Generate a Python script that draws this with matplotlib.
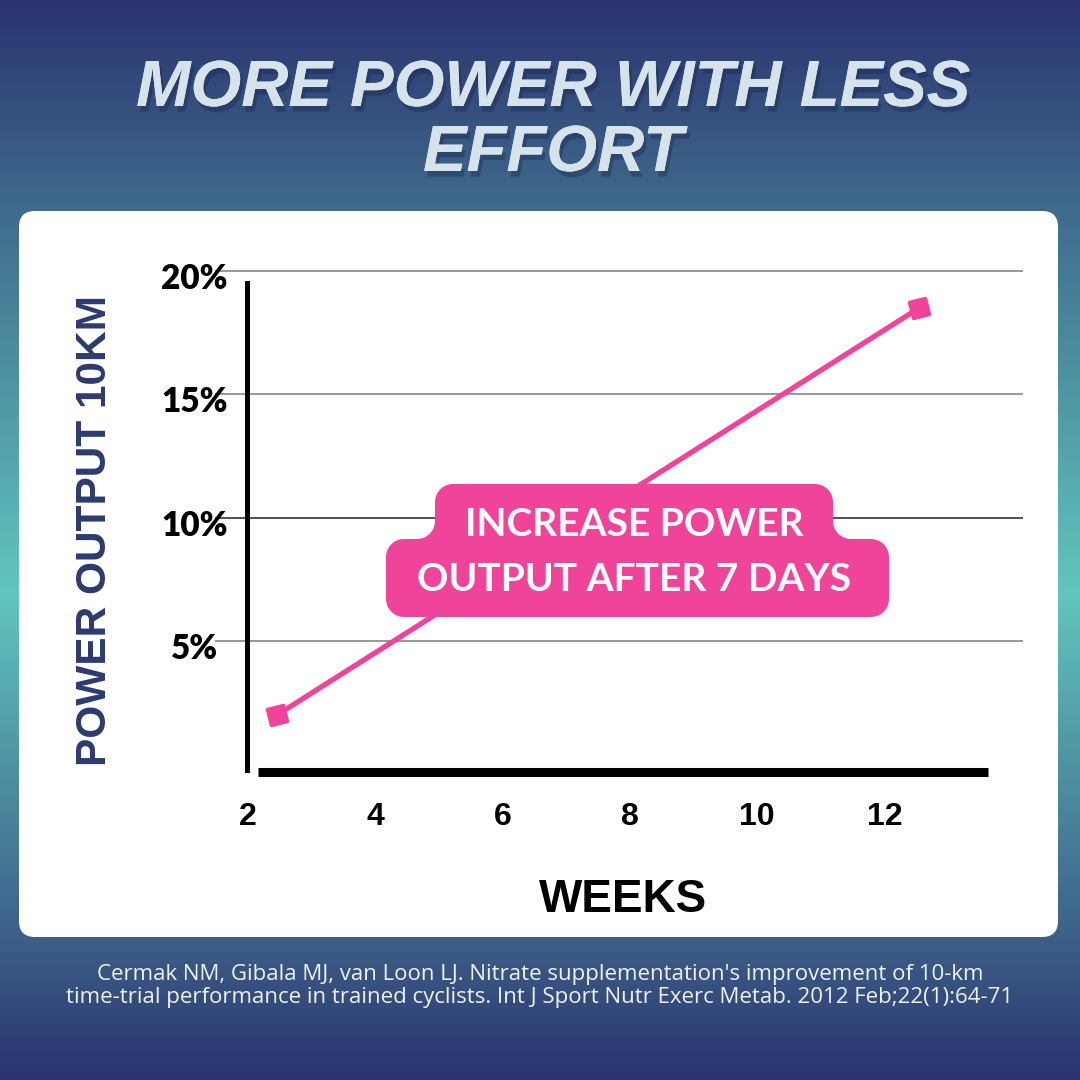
import numpy as np
import matplotlib
matplotlib.use("Agg")
import matplotlib.pyplot as plt
from matplotlib.colors import LinearSegmentedColormap
from matplotlib.patches import FancyBboxPatch, PathPatch
from matplotlib.path import Path
from matplotlib.markers import MarkerStyle
from matplotlib.transforms import Affine2D, ScaledTranslation
import matplotlib.patheffects as pe

# data
weeks = [2.45, 12.55]
power_gain = [2.0, 18.5]

week_ticks = [2, 4, 6, 8, 10, 12]
week_labels = ["2", "4", "6", "8", "10", "12"]
pct_ticks = [5, 10, 15, 20]
pct_labels = ["5%", "10%", "15%", "20%"]

title_lines = ["MORE POWER WITH LESS", "EFFORT"]
callout_lines = ["INCREASE POWER", "OUTPUT AFTER 7 DAYS"]
citation_lines = [
    "Cermak NM, Gibala MJ, van Loon LJ. Nitrate supplementation's improvement of 10-km",
    "time-trial performance in trained cyclists. Int J Sport Nutr Exerc Metab. 2012 Feb;22(1):64-71",
]

PINK = "#f0449a"
NAVY = "#2c3a70"
ARIAL = ["Liberation Sans", "DejaVu Sans"]


def arc(cx, cy, r, a0, a1, n=12):
    t = np.radians(np.linspace(a0, a1, n))
    return list(zip(cx + r * np.cos(t), cy + r * np.sin(t)))


def callout_path(x1, x2, top, jy, X1, X2, bot, r):
    # two stacked rounded boxes joined by concave fillets (pixel coords, y down)
    pts = []
    pts += arc(x2 - r, top + r, r, -90, 0)
    pts += arc(x2 + r, jy - r, r, 180, 90)
    pts += arc(X2 - r, jy + r, r, -90, 0)
    pts += arc(X2 - r, bot - r, r, 0, 90)
    pts += arc(X1 + r, bot - r, r, 90, 180)
    pts += arc(X1 + r, jy + r, r, 180, 270)
    pts += arc(x1 - r, jy - r, r, 90, 0)
    pts += arc(x1 + r, top + r, r, 180, 270)
    pts.append(pts[0])
    codes = [Path.MOVETO] + [Path.LINETO] * (len(pts) - 2) + [Path.CLOSEPOLY]
    return Path(pts, codes)


fig = plt.figure(figsize=(10.8, 10.8), dpi=100)

# background + card
bg = fig.add_axes([0, 0, 1, 1], zorder=0)
bg.set_xlim(0, 1080)
bg.set_ylim(1080, 0)
bg.axis("off")
cmap = LinearSegmentedColormap.from_list(
    "bg", [(0.0, "#2a3470"), (0.19, "#3f6a8c"), (0.55, "#62c6bd"),
           (0.88, "#3b5c86"), (1.0, "#2a3470")])
bg.imshow(np.linspace(0, 1, 600)[:, None], extent=(0, 1080, 1080, 0),
          cmap=cmap, aspect="auto", interpolation="bilinear")
bg.add_patch(FancyBboxPatch((19, 211), 1039, 726,
                            boxstyle="round,pad=0,rounding_size=16",
                            fc="white", ec="none"))

shadow = [pe.withSimplePatchShadow(offset=(2, -4), shadow_rgbFace="#15224a", alpha=0.35),
          pe.Normal()]
for yb, line in zip([106, 171], title_lines):
    bg.text(553, yb, line, ha="center", va="baseline", color="#d7e3eb",
            fontsize=47, fontweight="bold", fontstyle="italic", family=ARIAL,
            path_effects=shadow)

for yb, line in zip([980, 1003], citation_lines):
    bg.text(540, yb, line, ha="center", va="baseline", color="#eef2f6",
            fontsize=16, family=["Open Sans", "DejaVu Sans"])

# chart
ax = fig.add_axes([215 / 1080, 1 - 780 / 1080, 808 / 1080, 520 / 1080], zorder=2)
ax.patch.set_alpha(0)
ax.set_xlim(1.478, 14.18)
ax.set_ylim(-0.628, 20.44)

for v in pct_ticks:
    ax.axhline(v, color="#222222" if v == 10 else "#7a7a7a", lw=1.1, zorder=1)

for side in ["top", "right"]:
    ax.spines[side].set_visible(False)
ax.spines["left"].set_position(("data", 1.98))
ax.spines["left"].set_bounds(-0.22, 19.5)
ax.spines["left"].set_linewidth(3.6)
ax.spines["bottom"].set_position(("data", -0.3))
ax.spines["bottom"].set_bounds(2.15, 13.63)
ax.spines["bottom"].set_linewidth(6.5)
ax.spines["bottom"].set_capstyle("butt")

ax.set_yticks(pct_ticks, pct_labels)
ax.set_xticks(week_ticks, week_labels)
ax.tick_params(axis="both", length=0)
ax.tick_params(axis="y", pad=38)
ax.tick_params(axis="x", pad=22)
for lab in ax.get_yticklabels():
    lab.set_ha("center")
    lab.set_fontfamily(["Lato", "DejaVu Sans"])
    lab.set_fontweight("heavy")
    lab.set_fontsize(24)
    lab.set_transform(lab.get_transform() + ScaledTranslation(0, -0.05, fig.dpi_scale_trans))
for lab in ax.get_xticklabels():
    lab.set_fontfamily(ARIAL)
    lab.set_fontweight("bold")
    lab.set_fontsize(23)

mk = MarkerStyle("s", transform=Affine2D().rotate_deg(12), joinstyle="round")
ax.plot(weeks, power_gain, color=PINK, lw=3.8, marker=mk, ms=12, mec=PINK, mew=2.5,
        clip_on=False, zorder=3)

# overlay: callout and axis titles
ov = fig.add_axes([0, 0, 1, 1], zorder=5)
ov.set_xlim(0, 1080)
ov.set_ylim(1080, 0)
ov.axis("off")
ov.patch.set_alpha(0)
ov.add_patch(PathPatch(callout_path(435, 833, 484, 539, 386, 889, 617, 18),
                       fc=PINK, ec="none"))
ov.text(634, 536, callout_lines[0], ha="center", va="baseline", color="white",
        fontsize=28, fontweight="bold", family=["Lato", "DejaVu Sans"])
ov.text(634, 591, callout_lines[1], ha="center", va="baseline", color="white",
        fontsize=28, fontweight="bold", family=["Lato", "DejaVu Sans"])

ov.text(106, 531, "POWER OUTPUT 10KM", rotation=90, rotation_mode="anchor",
        ha="center", va="baseline", color=NAVY, fontsize=30.5, fontweight="bold",
        family=ARIAL)
ov.text(623, 912, "WEEKS", ha="center", va="baseline", color="black",
        fontsize=33, fontweight="bold", family=ARIAL)

fig.savefig("out.png", dpi=100)
